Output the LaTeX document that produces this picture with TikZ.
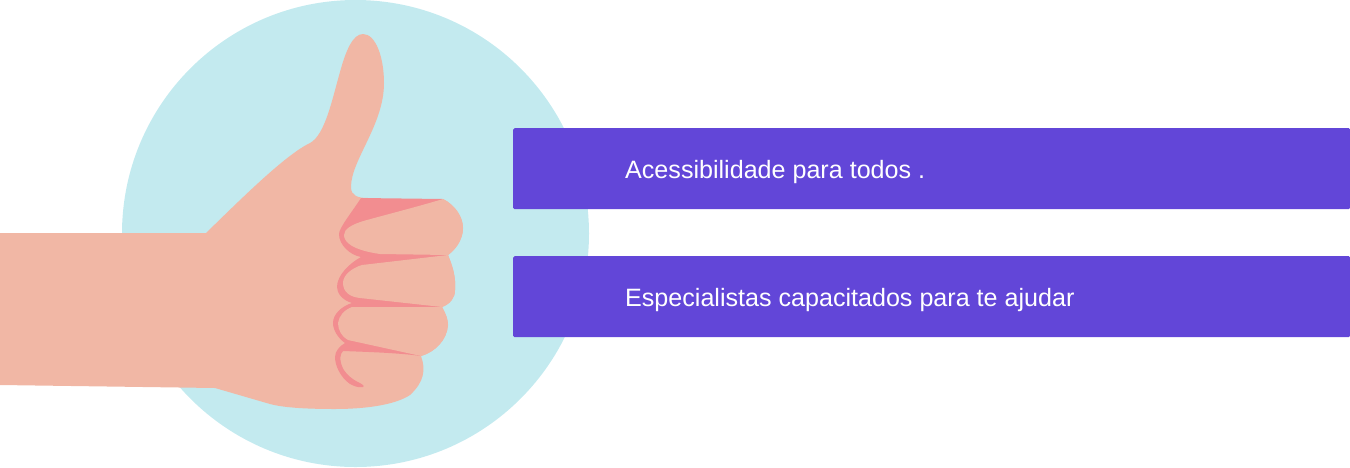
\documentclass[tikz,border=0pt]{standalone}
\usepackage{fontspec}
\setmainfont{Liberation Sans}
\definecolor{discblue}{HTML}{C3EAEF}
\definecolor{skintone}{HTML}{F1B7A5}
\definecolor{creasepink}{HTML}{F28D90}
\definecolor{bannerpurple}{HTML}{6246D8}
\begin{document}
\begin{tikzpicture}[x=1pt, y=-1pt,
    skin/.style={fill=skintone},
    crease/.style={fill=creasepink},
    disc/.style={circle,fill=discblue,inner sep=0pt,minimum size=467pt},
    banner/.style={fill=bannerpurple,rounded corners=1.5pt,inner sep=0pt,minimum width=837pt,minimum height=81pt,anchor=north west},
    bannertext/.style={text=white,font=\fontsize{25.1}{30}\selectfont,anchor=base west,inner sep=0pt}]

    \useasboundingbox (0,0) rectangle (1350,467);

    \node[disc] at (355.5,233.5) (backdisc) {};

    % hand
    \path[skin] (0,233) -- (206,233)
        .. controls (240,200) and (285,155) .. (310,143)
        .. controls (325,135) and (332,100) .. (340,72)
        .. controls (346,50) and (353,34) .. (363,34)
        .. controls (376,34) and (384,58) .. (384,83)
        .. controls (384,125) and (351,160) .. (351,187)
        .. controls (351,196) and (358,198) .. (368,198)
        .. controls (390,200) and (420,200) .. (443,199)
        .. controls (455,205) and (463,217) .. (463,228)
        .. controls (463,240) and (455,250) .. (448,255)
        .. controls (453,267) and (456,278) .. (455,290)
        .. controls (455,298) and (450,304) .. (442,307)
        .. controls (446,314) and (448,320) .. (448,325)
        .. controls (447,340) and (435,352) .. (421,356)
        .. controls (426,370) and (424,382) .. (410,395)
        .. controls (395,405) and (365,409) .. (335,409)
        .. controls (310,409) and (285,408) .. (270,404)
        -- (215,388) -- (0,385) -- cycle;

    % creases between the fingers
    \path[crease] (361,198) -- (443,199) -- (448,255) -- (442,307) -- (421,356)
        .. controls (400,353) and (370,352) .. (343,351)
        .. controls (340,354) and (340,359) .. (341,363)
        .. controls (343,372) and (351,379) .. (360,383)
        .. controls (362,384) and (365,386) .. (363,387)
        .. controls (358,388) and (354,386) .. (350,384)
        .. controls (340,377) and (335,365) .. (335,357)
        .. controls (335,351) and (340,346) .. (345,343)
        .. controls (338,338) and (333,330) .. (333,323)
        .. controls (333,314) and (342,306) .. (352,303)
        .. controls (342,300) and (337,293) .. (337,287)
        .. controls (337,275) and (350,263) .. (361,257)
        .. controls (350,255) and (339,245) .. (339,234)
        .. controls (339,228) and (352,212) .. (361,198) -- cycle;

    % fingers
    \path[skin] (443,199)
        .. controls (420,206) and (385,215) .. (367,220)
        .. controls (352,224) and (344,229) .. (344,235)
        .. controls (344,242) and (352,250) .. (380,254)
        -- (448,255)
        .. controls (455,250) and (463,240) .. (463,228)
        .. controls (463,217) and (455,205) .. (443,199) -- cycle;
    \path[skin] (448,255) -- (362,265)
        .. controls (352,268) and (343,275) .. (343,283)
        .. controls (343,292) and (350,297) .. (360,298)
        -- (442,307)
        .. controls (450,304) and (455,298) .. (455,290)
        .. controls (456,278) and (453,267) .. (448,255) -- cycle;
    \path[skin] (442,307) -- (352,307)
        .. controls (344,310) and (339,316) .. (338,323)
        .. controls (338,330) and (342,337) .. (348,340)
        -- (421,356)
        .. controls (435,352) and (447,340) .. (448,325)
        .. controls (448,320) and (446,314) .. (442,307) -- cycle;

    % banners
    \node[banner] at (513,128) (accessbanner) {};
    \node[banner] at (513,256) (expertbanner) {};
    \node[bannertext] at (625,178) (accesslabel) {Acessibilidade para todos .};
    \node[bannertext] at (625,306) (expertlabel) {Especialistas capacitados para te ajudar};
\end{tikzpicture}
\end{document}
